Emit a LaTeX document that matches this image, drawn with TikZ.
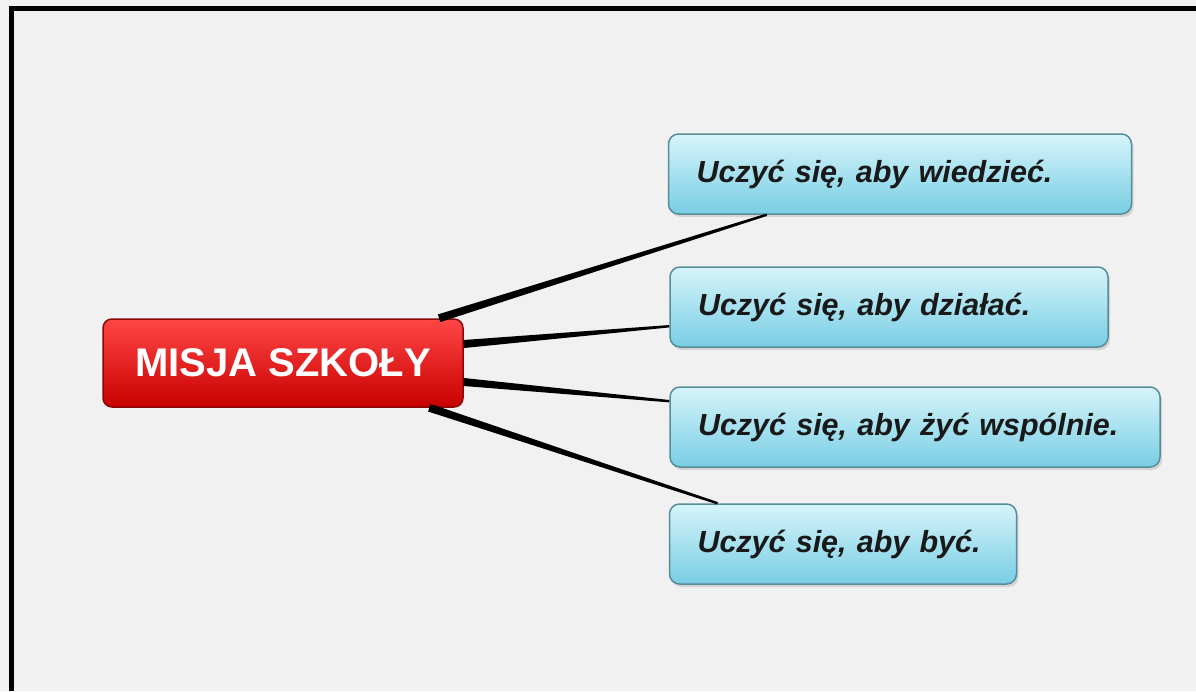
\documentclass[tikz,border=0pt]{standalone}
\usepackage{fontspec}
\newfontfamily\boxfont{Liberation Sans}
\usetikzlibrary{calc,shadows}
\definecolor{paper}{RGB}{241,241,241}
\definecolor{missiontop}{RGB}{255,70,70}
\definecolor{missionbottom}{RGB}{200,0,0}
\definecolor{missionborder}{RGB}{140,8,8}
\definecolor{aimtop}{RGB}{214,244,250}
\definecolor{aimbottom}{RGB}{120,206,228}
\definecolor{aimborder}{RGB}{88,140,152}

\begin{document}
\begin{tikzpicture}[
    x=1pt,
    y=-1pt,
    mission/.style={
      draw=missionborder,
      line width=1.5pt,
      rounded corners=9pt,
      top color=missiontop,
      bottom color=missionbottom,
      minimum width=360pt,
      minimum height=88pt,
      font=\boxfont\bfseries\fontsize{40}{40}\selectfont,
      text=white,
    },
    aim/.style={
      draw=aimborder,
      line width=1.5pt,
      rounded corners=10pt,
      top color=aimtop,
      bottom color=aimbottom,
      drop shadow={opacity=.25,shadow xshift=2pt,shadow yshift=-3pt},
      inner xsep=28pt,
      align=left,
      minimum height=80pt,
      font=\boxfont\bfseries\itshape\fontsize{30.5}{31}\selectfont,
      text=black!90,
    },
    link/.style={
      fill=black,
    },
  ]
    \newcommand\branch[2]{%
      \fill[link] ($(#1)!4pt!90:(#2)$) -- ($(#2)!1.2pt!-90:(#1)$)
        -- ($(#2)!1.2pt!90:(#1)$) -- ($(#1)!4pt!-90:(#2)$) -- cycle;
    }

    \useasboundingbox (0,0) rectangle (1196,691);
    \fill[paper] (0,0) rectangle (1196,691);
    \draw[line width=5pt] (11.5,691) -- (11.5,8.5) -- (1196,8.5);

    \node[mission] (misja) at (283,363) {MISJA SZKOŁY};

    \node[aim,text width=407pt] (wiedziec) at (900,174) {Uczyć się, aby wiedzieć.};
    \node[aim,text width=382pt] (dzialac)  at (889,307) {Uczyć się, aby działać.};
    \node[aim,text width=434pt] (zyc)      at (915,427) {Uczyć się, aby żyć wspólnie.};
    \node[aim,text width=291pt] (byc)      at (843,544) {Uczyć się, aby być.};

    \branch{misja.16}{wiedziec.197}
    \branch{misja.6}{dzialac.185}
    \branch{misja.-6}{zyc.174}
    \branch{misja.-17}{byc.162}
  \end{tikzpicture}
\end{document}
